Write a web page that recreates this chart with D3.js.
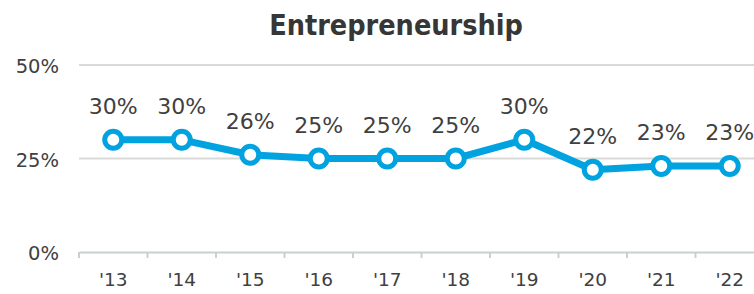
<!DOCTYPE html>
<html>
<head>
<meta charset="utf-8">
<script src="https://cdn.jsdelivr.net/npm/d3@7"></script>
<style>
  body { margin: 0; background: #fff; }
  svg { display: block; }
</style>
</head>
<body>
<div id="chart"></div>
<script>
// chart data
const years = ["'13", "'14", "'15", "'16", "'17", "'18", "'19", "'20", "'21", "'22"];
const values = [30, 30, 26, 25, 25, 25, 30, 22, 23, 23];
const yTicks = [0, 25, 50];

const width = 754;
const height = 294;
const margin = {top: 65, left: 79, bottom: 42};
const plotWidth = 685;   // runs a bit past the right edge, like the original
const plotHeight = height - margin.top - margin.bottom;

const svg = d3.select('#chart')
  .append('svg')
    .attr('width', width)
    .attr('height', height);

const xScale = d3.scaleBand()
  .domain(years)
  .range([margin.left, margin.left + plotWidth]);

const yScale = d3.scaleLinear()
  .domain([0, 50])
  .range([margin.top + plotHeight, margin.top]);

// title
svg.append('text')
  .attr('x', 396)
  .attr('y', 35)
  .attr('text-anchor', 'middle')
  .attr('font-family', '"DejaVu Sans Condensed", "DejaVu Sans", sans-serif')
  .attr('font-weight', 'bold')
  .attr('font-size', 28.5)
  .attr('fill', '#363636')
  .text('Entrepreneurship');

// gridlines
svg.append('g')
  .selectAll('line')
  .data(yTicks.filter(d => d > 0))
  .enter()
    .append('line')
      .attr('x1', margin.left)
      .attr('x2', margin.left + plotWidth)
      .attr('y1', d => yScale(d))
      .attr('y2', d => yScale(d))
      .attr('stroke', '#d9d9d9')
      .attr('stroke-width', 2);

// y axis labels
const yAxis = svg.append('g')
  .attr('transform', `translate(${margin.left}, 0)`)
  .call(d3.axisLeft(yScale).tickValues(yTicks).tickSize(0).tickPadding(20).tickFormat(d => d + '%'));
yAxis.select('.domain').remove();
yAxis.selectAll('text')
  .attr('dy', '0.4em')
  .attr('font-family', '"DejaVu Sans", sans-serif')
  .attr('font-size', 19.5)
  .attr('fill', '#404040');

// x axis
const xAxis = svg.append('g')
  .attr('transform', `translate(0, ${yScale(0)})`)
  .call(d3.axisBottom(xScale).tickSize(0).tickPadding(21));
xAxis.select('.domain')
  .attr('stroke', '#c9d1d0')
  .attr('stroke-width', 2);
xAxis.selectAll('text')
  .attr('font-family', '"DejaVu Sans", sans-serif')
  .attr('font-size', 18.5)
  .attr('fill', '#404040');

// tick marks on band boundaries
svg.append('g')
  .selectAll('line')
  .data(years)
  .enter()
    .append('line')
      .attr('x1', d => xScale(d))
      .attr('x2', d => xScale(d))
      .attr('y1', yScale(0))
      .attr('y2', yScale(0) + 6)
      .attr('stroke', '#c9d1d0')
      .attr('stroke-width', 2);

const cx = d => xScale(d) + xScale.bandwidth() / 2;

// the line
const line = d3.line()
  .x((d, i) => cx(years[i]))
  .y(d => yScale(d));

svg.append('path')
  .datum(values)
  .attr('d', line)
  .attr('fill', 'none')
  .attr('stroke', '#00a3df')
  .attr('stroke-width', 7)
  .attr('stroke-linejoin', 'round');

// markers
svg.append('g')
  .selectAll('circle')
  .data(values)
  .enter()
    .append('circle')
      .attr('cx', (d, i) => cx(years[i]))
      .attr('cy', d => yScale(d))
      .attr('r', 8.5)
      .attr('fill', '#fff')
      .attr('stroke', '#00a3df')
      .attr('stroke-width', 5);

// data labels
svg.append('g')
  .selectAll('text')
  .data(values)
  .enter()
    .append('text')
      .attr('x', (d, i) => cx(years[i]))
      .attr('y', d => yScale(d) - 26)
      .attr('text-anchor', 'middle')
      .attr('font-family', '"DejaVu Sans", sans-serif')
      .attr('font-size', 22)
      .attr('fill', '#404040')
      .text(d => d + '%');
</script>
</body>
</html>
